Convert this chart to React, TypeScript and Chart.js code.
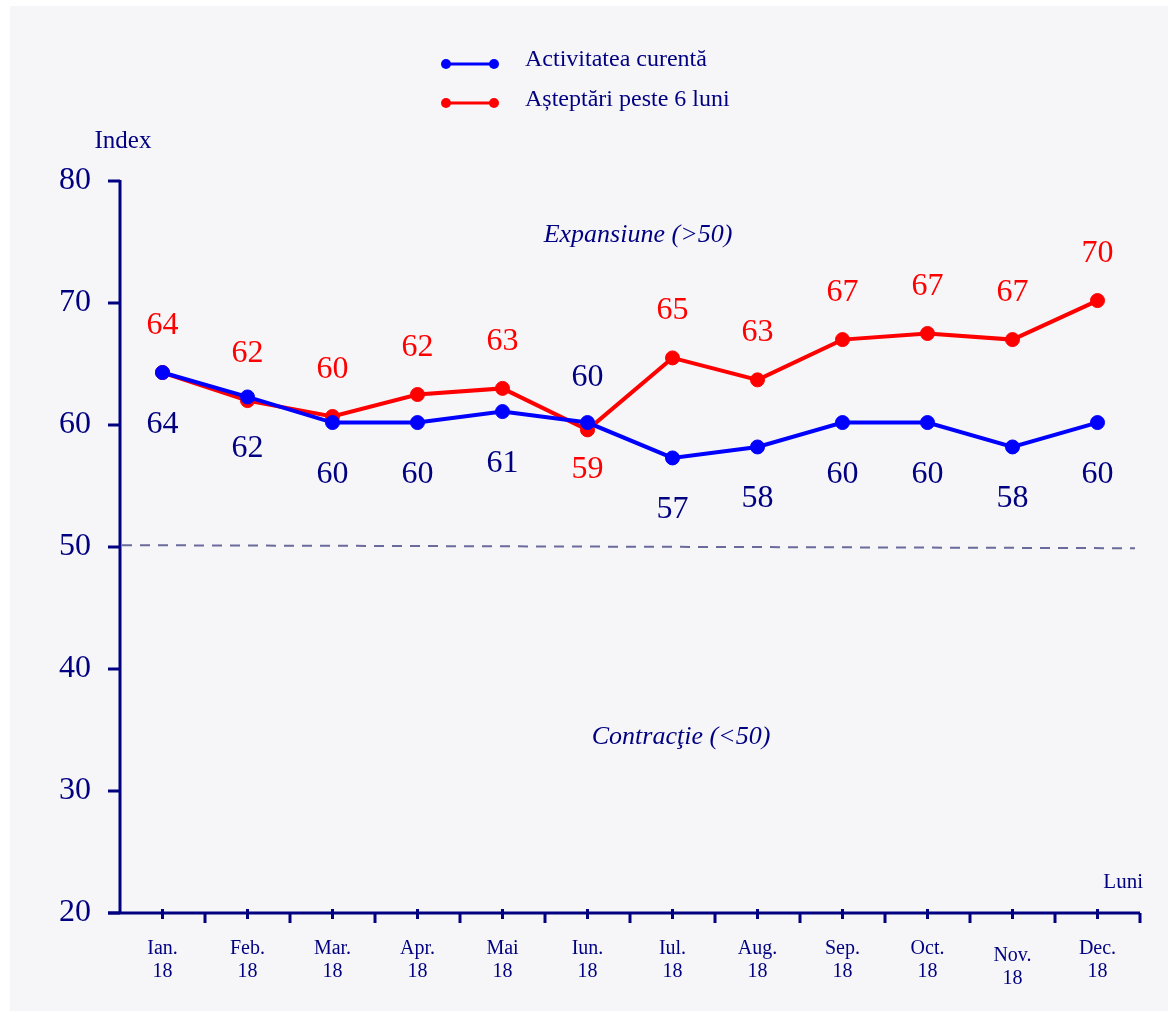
import React, { useEffect, useRef } from "react";
import { Chart, registerables } from "chart.js";

Chart.register(...registerables);

const categories: string[][] = [
  ["Ian.", "18"], ["Feb.", "18"], ["Mar.", "18"], ["Apr.", "18"], ["Mai", "18"], ["Iun.", "18"],
  ["Iul.", "18"], ["Aug.", "18"], ["Sep.", "18"], ["Oct.", "18"], ["Nov.", "18"], ["Dec.", "18"],
];
const activitate = [64.3, 62.3, 60.2, 60.2, 61.1, 60.2, 57.3, 58.2, 60.2, 60.2, 58.2, 60.2];
const asteptari = [64.3, 62.0, 60.7, 62.5, 63.0, 59.6, 65.5, 63.7, 67.0, 67.5, 67.0, 70.2];
const activitateLabels = ["64", "62", "60", "60", "61", "60", "57", "58", "60", "60", "58", "60"];
const asteptariLabels = ["64", "62", "60", "62", "63", "59", "65", "63", "67", "67", "67", "70"];
const activitateLabelAbove = [false, false, false, false, false, true, false, false, false, false, false, false];
const asteptariLabelAbove = [true, true, true, true, true, false, true, true, true, true, true, true];
const yTicks = [20, 30, 40, 50, 60, 70, 80];
const refLine = [50.15, 49.9];
const seriesNames = ["Activitatea curentă", "Așteptări peste 6 luni"];

const NAVY = "#000080";
const BLUE = "#0000ff";
const RED = "#ff0000";
const SERIF = '"Liberation Serif", "Times New Roman", serif';

const customPlugin = {
  id: "custom",
  beforeDraw(chart: any) {
    const ctx = chart.ctx;
    const { x, y } = chart.scales;
    ctx.save();
    ctx.fillStyle = "#ffffff";
    ctx.fillRect(0, 0, chart.width, chart.height);
    ctx.fillStyle = "#f6f6f9";
    ctx.fillRect(10, 6, chart.width - 10, chart.height - 6);

    // reference dashed line at 50
    ctx.strokeStyle = "#6a6a9c";
    ctx.lineWidth = 2;
    ctx.setLineDash([10, 8]);
    ctx.beginPath();
    ctx.moveTo(x.left + 2, y.getPixelForValue(refLine[0]));
    ctx.lineTo(x.right - 5, y.getPixelForValue(refLine[1]));
    ctx.stroke();
    ctx.setLineDash([]);

    // region annotations
    ctx.fillStyle = NAVY;
    ctx.font = `italic 26px ${SERIF}`;
    ctx.textAlign = "center";
    ctx.textBaseline = "middle";
    ctx.fillText("Expansiune (>50)", 638, 235);
    ctx.fillText("Contracţie (<50)", 681, 737);

    // axis titles
    ctx.font = `25px ${SERIF}`;
    ctx.fillText("Index", 123, 141);
    ctx.font = `21px ${SERIF}`;
    ctx.textAlign = "right";
    ctx.fillText("Luni", 1143, 882);

    // legend
    const legendRows = [
      { color: BLUE, y: 64, ty: 60, name: seriesNames[0] },
      { color: RED, y: 103, ty: 100, name: seriesNames[1] },
    ];
    legendRows.forEach((r) => {
      ctx.strokeStyle = r.color;
      ctx.fillStyle = r.color;
      ctx.lineWidth = 3;
      ctx.beginPath();
      ctx.moveTo(446, r.y);
      ctx.lineTo(494, r.y);
      ctx.stroke();
      [446, 494].forEach((px) => {
        ctx.beginPath();
        ctx.arc(px, r.y, 5, 0, Math.PI * 2);
        ctx.fill();
      });
      ctx.fillStyle = NAVY;
      ctx.font = `24px ${SERIF}`;
      ctx.textAlign = "left";
      ctx.fillText(r.name, 525, r.ty);
    });

    // axes
    ctx.strokeStyle = NAVY;
    ctx.lineWidth = 3;
    ctx.beginPath();
    ctx.moveTo(x.left, y.top - 1);
    ctx.lineTo(x.left, y.bottom);
    ctx.moveTo(x.left - 12, y.bottom);
    ctx.lineTo(x.right, y.bottom);
    ctx.stroke();

    // y ticks & labels
    ctx.lineWidth = 3;
    ctx.font = `32px ${SERIF}`;
    ctx.textAlign = "right";
    ctx.textBaseline = "middle";
    ctx.fillStyle = NAVY;
    yTicks.forEach((v) => {
      const py = y.getPixelForValue(v);
      ctx.beginPath();
      ctx.moveTo(x.left - 12, py);
      ctx.lineTo(x.left, py);
      ctx.stroke();
      ctx.fillText(String(v), 91, py);
    });

    // x ticks & labels
    const n = categories.length;
    const step = (x.right - x.left) / n;
    ctx.lineWidth = 3;
    for (let i = 0; i < n; i++) {
      const cx = x.getPixelForValue(i);
      ctx.beginPath();
      ctx.moveTo(cx, y.bottom - 4);
      ctx.lineTo(cx, y.bottom + 6);
      ctx.stroke();
      const bx = x.left + step * (i + 1);
      ctx.beginPath();
      ctx.moveTo(bx, y.bottom);
      ctx.lineTo(bx, y.bottom + 10);
      ctx.stroke();
    }
    ctx.font = `20px ${SERIF}`;
    ctx.textAlign = "center";
    categories.forEach((lab, i) => {
      const cx = x.getPixelForValue(i);
      const dy = lab[0] === "Nov." ? 7 : 0;
      ctx.fillText(lab[0], cx, 949 + dy);
      ctx.fillText(lab[1], cx, 972 + dy);
    });
    ctx.restore();
  },
  afterDatasetsDraw(chart: any) {
    const ctx = chart.ctx;
    ctx.save();
    ctx.font = `32px ${SERIF}`;
    ctx.textAlign = "center";
    ctx.textBaseline = "middle";
    const sets = [
      { idx: 0, labels: activitateLabels, above: activitateLabelAbove, color: NAVY },
      { idx: 1, labels: asteptariLabels, above: asteptariLabelAbove, color: RED },
    ];
    sets.forEach((s) => {
      const meta = chart.getDatasetMeta(s.idx);
      ctx.fillStyle = s.color;
      meta.data.forEach((pt: any, i: number) => {
        const up = s.above[i];
        const off = s.idx === 0 ? (up ? -45 : 52) : (up ? -47 : 40);
        ctx.fillText(s.labels[i], pt.x, pt.y + off);
      });
    });
    ctx.restore();
  },
};

export default function App() {
  const ref = useRef<HTMLCanvasElement | null>(null);
  useEffect(() => {
    if (!ref.current) return;
    const chart = new Chart(ref.current, {
      type: "line",
      data: {
        labels: categories,
        datasets: [
          {
            label: seriesNames[0],
            data: activitate,
            borderColor: BLUE,
            backgroundColor: BLUE,
            borderWidth: 4,
            pointRadius: 7,
            pointBorderWidth: 1,
            pointBackgroundColor: BLUE,
            pointBorderColor: BLUE,
            tension: 0,
          },
          {
            label: seriesNames[1],
            data: asteptari,
            borderColor: RED,
            backgroundColor: RED,
            borderWidth: 4,
            pointRadius: 7,
            pointBorderWidth: 1,
            pointBackgroundColor: RED,
            pointBorderColor: RED,
            tension: 0,
          },
        ],
      },
      options: {
        responsive: false,
        animation: false,
        layout: { padding: { left: 120, right: 28, top: 181, bottom: 98 } },
        scales: {
          x: { type: "category", display: false, offset: true },
          y: { min: 20, max: 80, display: false },
        },
        plugins: { legend: { display: false }, tooltip: { enabled: false } },
      },
      plugins: [customPlugin],
    } as any);
    return () => chart.destroy();
  }, []);
  return (
    <div style={{ position: "fixed", left: 0, top: 0, width: 1168, height: 1011, background: "#fff" }}>
      <canvas ref={ref} width={1168} height={1011} style={{ display: "block", width: 1168, height: 1011 }} />
    </div>
  );
}
